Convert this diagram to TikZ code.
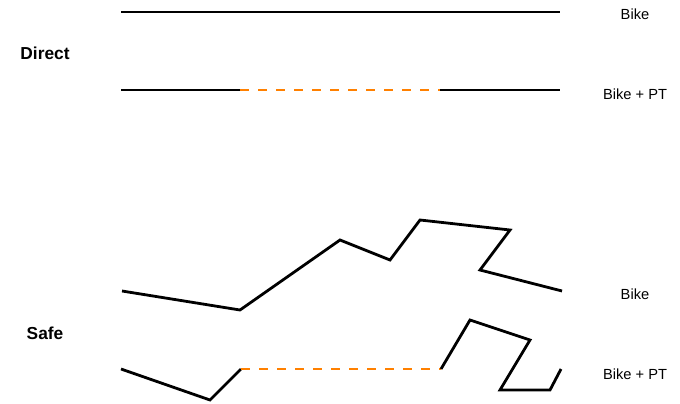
\documentclass[tikz,border=0pt]{standalone}
\usepackage{fontspec}
\setmainfont{Liberation Sans}
\definecolor{ptorange}{RGB}{255,128,0}
\begin{document}
\begin{tikzpicture}[x=0.75pt,y=-0.75pt,
  route/.style={line width=2.1pt,black},
  ptleg/.style={line width=2.1pt,ptorange,dash pattern=on 6.5pt off 7pt},
  modelabel/.style={font=\fontsize{11}{13}\selectfont,anchor=center},
  grouplabel/.style={font=\fontsize{13}{15}\selectfont\bfseries,anchor=center}]
\useasboundingbox (0,0) rectangle (680,403);
% group labels
\node[grouplabel] (direct) at (45,53) {Direct};
\node[grouplabel] (safe) at (45,333) {Safe};
% mode labels
\node[modelabel] (l1) at (635,14) {Bike};
\node[modelabel] (l2) at (635,94) {Bike + PT};
\node[modelabel] (l3) at (635,294) {Bike};
\node[modelabel] (l4) at (635,374) {Bike + PT};
% Direct, bike
\coordinate (d1a) at (121,12);
\coordinate (d1b) at (560,12);
\draw[route] (d1a) -- (d1b);
% Direct, bike + PT
\coordinate (d2a) at (121,90);
\coordinate (d2b) at (240,90);
\coordinate (d2c) at (440,90);
\coordinate (d2d) at (560,90);
\draw[route] (d2a) -- (d2b);
\draw[ptleg] (d2b) -- (d2c);
\draw[route] (d2c) -- (d2d);
% Safe, bike
\coordinate (s1) at (122,291);
\coordinate (s2) at (240,310);
\coordinate (s3) at (340,240);
\coordinate (s4) at (390,260);
\coordinate (s5) at (420,220);
\coordinate (s6) at (510,230);
\coordinate (s7) at (480,270);
\coordinate (s8) at (562,291);
\draw[route] (s1) -- (s2) -- (s3) -- (s4) -- (s5) -- (s6) -- (s7) -- (s8);
% Safe, bike + PT
\coordinate (t1) at (121,369);
\coordinate (t2) at (210,400);
\coordinate (t3) at (241,369);
\coordinate (t4) at (441,369);
\coordinate (t5) at (470,320);
\coordinate (t6) at (530,340);
\coordinate (t7) at (500,390);
\coordinate (t8) at (550,390);
\coordinate (t9) at (561,369);
\draw[route] (t1) -- (t2) -- (t3);
\draw[ptleg] (t3) -- (t4);
\draw[route] (t4) -- (t5) -- (t6) -- (t7) -- (t8) -- (t9);
\end{tikzpicture}
\end{document}
